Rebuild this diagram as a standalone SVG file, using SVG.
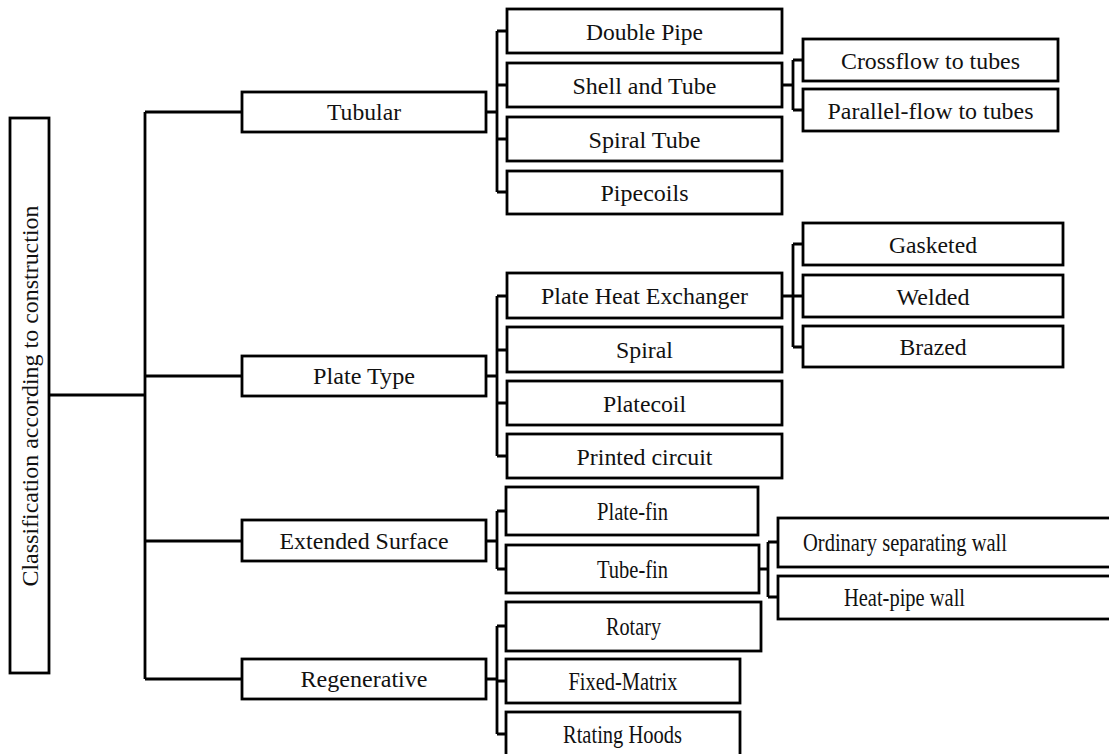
<svg xmlns="http://www.w3.org/2000/svg" width="1109" height="754" viewBox="0 0 1109 754">
<style>
rect{fill:#fff;stroke:#000;stroke-width:2.8}
text{font-family:"Liberation Serif","Times New Roman",serif;font-size:23px;fill:#111;text-anchor:middle}
text.b{font-size:25.5px}
.c{fill:none;stroke:#000;stroke-width:2.8}
</style>
<rect x="0" y="0" width="1109" height="754" style="stroke:none"/>
<g id="connectors" class="c">
<path class="c" d="M49 395H145M145 112V679M145 112H242M145 376H242M145 541H242M145 679H242"/>
<path class="c" d="M486 112H497M497 31V192M497 31H507M497 85H507M497 139H507M497 192H507"/>
<path class="c" d="M782 85H793M793 60V110M793 60H803M793 110H803"/>
<path class="c" d="M486 376H497M497 296V456M497 296H507M497 350H507M497 403H507M497 456H507"/>
<path class="c" d="M782 296H793M793 244V347M793 244H803M793 296H803M793 347H803"/>
<path class="c" d="M486 541H497M497 511V569M497 511H506M497 569H506"/>
<path class="c" d="M759 569H768M768 542V597M768 542H778M768 597H778"/>
<path class="c" d="M486 679H497M497 626V734M497 626H506M497 681H506M497 734H506"/>
</g>
<g id="root"><rect x="10" y="118" width="39" height="555"/><text transform="translate(37.5 396) rotate(-90)" style="font-size:24px" textLength="381" lengthAdjust="spacingAndGlyphs">Classification according to construction</text></g>
<g id="tubular"><rect x="242" y="92" width="244" height="40"/><text x="364" y="120" textLength="74" lengthAdjust="spacingAndGlyphs">Tubular</text></g>
<g id="plate-type"><rect x="242" y="356" width="244" height="40"/><text x="364" y="384" textLength="102" lengthAdjust="spacingAndGlyphs">Plate Type</text></g>
<g id="extended-surface"><rect x="242" y="520" width="244" height="41"/><text x="364" y="548.5" textLength="169" lengthAdjust="spacingAndGlyphs">Extended Surface</text></g>
<g id="regenerative"><rect x="242" y="659" width="244" height="40"/><text x="364" y="687" textLength="127" lengthAdjust="spacingAndGlyphs">Regenerative</text></g>
<g id="double-pipe"><rect x="507" y="9" width="275" height="44"/><text x="644.5" y="39.5" textLength="117" lengthAdjust="spacingAndGlyphs">Double Pipe</text></g>
<g id="shell-and-tube"><rect x="507" y="63" width="275" height="44"/><text x="644.5" y="93.5" textLength="144" lengthAdjust="spacingAndGlyphs">Shell and Tube</text></g>
<g id="spiral-tube"><rect x="507" y="117" width="275" height="44"/><text x="644.5" y="147.5" textLength="112" lengthAdjust="spacingAndGlyphs">Spiral Tube</text></g>
<g id="pipecoils"><rect x="507" y="171" width="275" height="43"/><text x="644.5" y="200.5" textLength="88" lengthAdjust="spacingAndGlyphs">Pipecoils</text></g>
<g id="crossflow"><rect x="803" y="39" width="255" height="42"/><text x="930.5" y="68.5" textLength="179" lengthAdjust="spacingAndGlyphs">Crossflow to tubes</text></g>
<g id="parallel-flow"><rect x="803" y="89" width="255" height="42"/><text x="930.5" y="118.5" textLength="206" lengthAdjust="spacingAndGlyphs">Parallel-flow to tubes</text></g>
<g id="plate-heat-exchanger"><rect x="507" y="273" width="275" height="45"/><text x="644.5" y="304" textLength="207" lengthAdjust="spacingAndGlyphs">Plate Heat Exchanger</text></g>
<g id="spiral"><rect x="507" y="327" width="275" height="45"/><text x="644.5" y="358" textLength="57" lengthAdjust="spacingAndGlyphs">Spiral</text></g>
<g id="platecoil"><rect x="507" y="381" width="275" height="44"/><text x="644.5" y="411.5" textLength="83" lengthAdjust="spacingAndGlyphs">Platecoil</text></g>
<g id="printed-circuit"><rect x="507" y="434" width="275" height="44"/><text x="644.5" y="464.5" textLength="136" lengthAdjust="spacingAndGlyphs">Printed circuit</text></g>
<g id="gasketed"><rect x="803" y="223" width="260" height="42"/><text x="933" y="252.5" textLength="88" lengthAdjust="spacingAndGlyphs">Gasketed</text></g>
<g id="welded"><rect x="803" y="275" width="260" height="42"/><text x="933" y="304.5" textLength="73" lengthAdjust="spacingAndGlyphs">Welded</text></g>
<g id="brazed"><rect x="803" y="326" width="260" height="41"/><text x="933" y="355" textLength="67" lengthAdjust="spacingAndGlyphs">Brazed</text></g>
<g id="plate-fin"><rect x="506" y="487" width="252" height="48"/><text class="b" x="632.5" y="519.5" textLength="71" lengthAdjust="spacingAndGlyphs">Plate-fin</text></g>
<g id="tube-fin"><rect x="506" y="545" width="253" height="48"/><text class="b" x="632.5" y="577.5" textLength="71" lengthAdjust="spacingAndGlyphs">Tube-fin</text></g>
<g id="ordinary-wall"><rect x="778" y="518" width="340" height="49"/><text class="b" x="905" y="551" textLength="204" lengthAdjust="spacingAndGlyphs">Ordinary separating wall</text></g>
<g id="heat-pipe-wall"><rect x="778" y="576" width="340" height="43"/><text class="b" x="904.5" y="605.5" textLength="121" lengthAdjust="spacingAndGlyphs">Heat-pipe wall</text></g>
<g id="rotary"><rect x="506" y="602" width="255" height="49"/><text class="b" x="633.5" y="634.5" textLength="55" lengthAdjust="spacingAndGlyphs">Rotary</text></g>
<g id="fixed-matrix"><rect x="506" y="659" width="234" height="44"/><text class="b" x="623" y="689.5" textLength="109" lengthAdjust="spacingAndGlyphs">Fixed-Matrix</text></g>
<g id="rotating-hoods"><rect x="506" y="712" width="234" height="50"/><text class="b" x="622.5" y="742.5" textLength="119" lengthAdjust="spacingAndGlyphs">Rtating Hoods</text></g>
</svg>
